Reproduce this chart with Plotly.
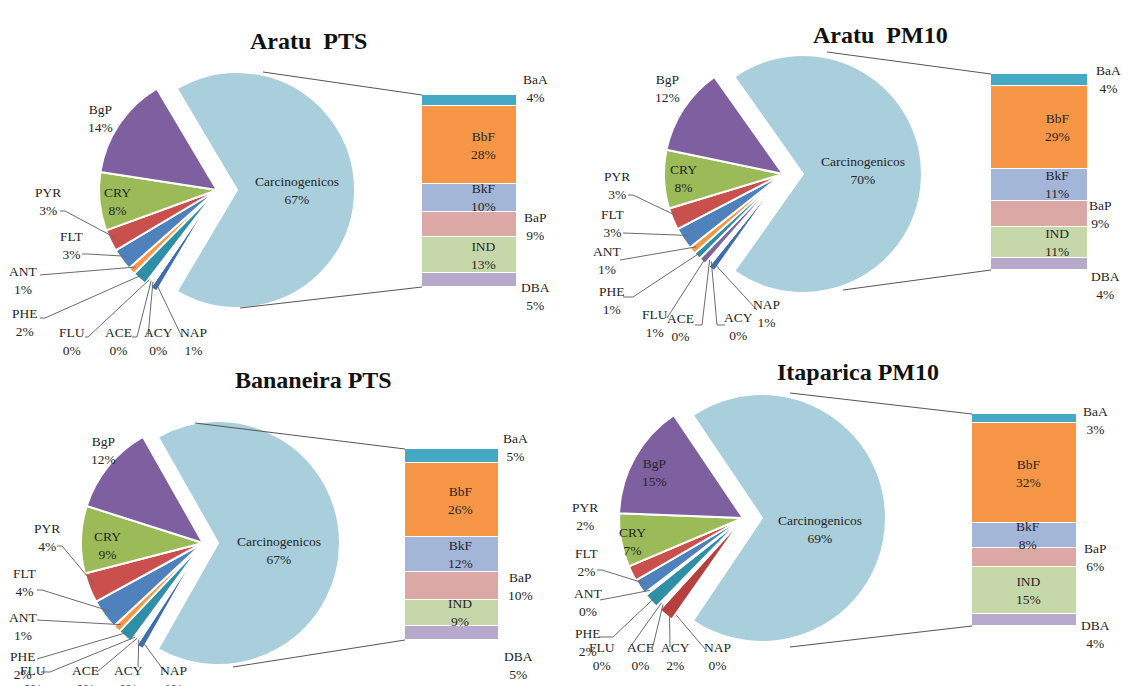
import math
import plotly.graph_objects as go

W, H = 1131, 686

# slices of the main pie, clockwise, starting with the grouped "other" slice
pie_labels = ["Carcinogenicos", "NAP", "ACY", "ACE", "FLU", "PHE", "ANT", "FLT", "PYR", "CRY", "BgP"]
# segments of the split-out bar, bottom to top
bar_labels = ["DBA", "IND", "BaP", "BkF", "BbF", "BaA"]

titles = ["Aratu  PTS", "Aratu  PM10", "Bananeira PTS", "Itaparica PM10"]

# percentages (the 0% slices are thin but still visible)
aratu_pts_pie = [67, 1, 0.3, 0.3, 0.3, 2, 1, 3, 3, 8, 14]
aratu_pts_bar = [5, 13, 9, 10, 28, 4]
aratu_pm10_pie = [70, 1, 0.3, 0.3, 1, 1, 1, 3, 3, 8, 12]
aratu_pm10_bar = [4, 11, 9, 11, 29, 4]
bananeira_pts_pie = [67, 1, 0.3, 0.3, 0.3, 2, 1, 4, 4, 9, 12]
bananeira_pts_bar = [5, 9, 10, 12, 26, 5]
itaparica_pm10_pie = [69, 0.3, 2, 0.3, 0.3, 2, 0.3, 2, 2, 7, 15]
itaparica_pm10_bar = [4, 15, 6, 8, 32, 3]

pie_values = [aratu_pts_pie, aratu_pm10_pie, bananeira_pts_pie, itaparica_pm10_pie]
bar_values = [aratu_pts_bar, aratu_pm10_bar, bananeira_pts_bar, itaparica_pm10_bar]

pie_colors = ["#A9CEDC", "#3F6DAF", "#B5403D", "#9BBB59", "#8064A2", "#2E8FA6",
              "#F79646", "#4F81BD", "#C9504C", "#9BBB59", "#7E5FA0"]
bar_colors = ["#B7A9CC", "#C6D8AA", "#DCA8A6", "#A4B6D8", "#F79646", "#46A9C3"]

FONT = "Liberation Serif"
TXT = "#262626"


def X(px):
    return px / W


def Y(py):
    return 1 - py / H


# panel geometry, in pixels of the 1131x686 canvas
panels = [
    dict(center=(217, 190), r=118, pull=20, bar=(422, 517, 95, 287), title=(308, 41),
         links=[((263, 72), (422, 95)), ((240, 308), (422, 287))], bar_text_x=483,
         outside={"BaA": (535, 88), "BaP": (535, 226), "DBA": (535, 297)},
         labels={"Carcinogenicos": (297, 190), "BgP": (100, 119), "CRY": (117, 202),
                 "PYR": (48, 202), "FLT": (72, 245), "ANT": (23, 280), "PHE": (25, 322),
                 "FLU": (72, 342), "ACE": (118, 342), "ACY": (158, 342), "NAP": (193, 342)},
         leaders={"PYR": [(60, 211), (65, 211)], "FLT": [(82, 254), (87, 254)],
                  "ANT": [(40, 275)], "PHE": [(40, 318), (45, 318)],
                  "FLU": [(85, 337), (88, 337)], "ACE": [(132, 337), (137, 337)],
                  "ACY": [(148, 337)], "NAP": [(182, 337)]}),
    dict(center=(783, 174), r=119, pull=20, bar=(991, 1088, 74, 270), title=(880, 35),
         links=[((827, 52), (991, 74)), ((843, 290), (991, 270))], bar_text_x=1057,
         outside={"BaA": (1108, 79), "BaP": (1100, 215), "DBA": (1105, 285)},
         labels={"Carcinogenicos": (863, 170), "BgP": (667, 88), "CRY": (683, 178),
                 "PYR": (617, 185), "FLT": (613, 224), "ANT": (607, 260), "PHE": (612, 300),
                 "FLU": (655, 323), "ACE": (680, 328), "ACY": (738, 326), "NAP": (767, 313)},
         leaders={"PYR": [(628, 195), (633, 195)], "FLT": [(623, 233)], "ANT": [(620, 260)],
                  "PHE": [(623, 297), (633, 297)], "FLU": [(667, 318)],
                  "ACE": [(695, 325), (702, 325)], "ACY": [(725, 325), (717, 325)],
                  "NAP": [(757, 310)]}),
    dict(center=(203, 543), r=122, pull=15, bar=(405, 499, 449, 640), title=(313, 380),
         links=[((195, 423), (405, 449)), ((233, 667), (405, 640))], bar_text_x=460,
         outside={"BaA": (515, 448), "BaP": (520, 586), "DBA": (518, 665)},
         labels={"Carcinogenicos": (279, 550), "BgP": (103, 450), "CRY": (107, 545),
                 "PYR": (47, 537), "FLT": (25, 582), "ANT": (23, 626), "PHE": (23, 665),
                 "FLU": (33, 679), "ACE": (85, 679), "ACY": (128, 679), "NAP": (173, 679)},
         leaders={"PYR": [(57, 546), (62, 546)], "FLT": [(37, 590), (42, 590)],
                  "ANT": [(37, 620)], "PHE": [(37, 659)], "FLU": [(41, 672), (50, 672)],
                  "ACE": [(97, 672)], "ACY": [(138, 667)], "NAP": [(165, 672)]}),
    dict(center=(743, 518), r=124, pull=19, bar=(972, 1077, 414, 626), title=(858, 372),
         links=[((790, 393), (972, 414)), ((790, 647), (972, 626))], bar_text_x=1028,
         outside={"BaA": (1095, 420), "BaP": (1095, 557), "DBA": (1095, 634)},
         labels={"Carcinogenicos": (820, 529), "BgP": (654, 473), "CRY": (632, 541),
                 "PYR": (585, 516), "FLT": (587, 562), "ANT": (588, 602), "PHE": (588, 642),
                 "FLU": (602, 656), "ACE": (640, 656), "ACY": (675, 656), "NAP": (717, 656)},
         leaders={"FLT": [(597, 570), (602, 570)], "ANT": [(600, 600)],
                  "PHE": [(600, 637), (613, 637)], "FLU": [(628, 650)], "ACE": [(652, 650)],
                  "ACY": [(670, 647)], "NAP": [(705, 649)]}),
]


def slice_point(vals, idx, cx, cy, r, frac=0.95):
    # point on the mid-angle of a slice, same geometry plotly uses for the pie
    tot = sum(vals)
    start = 90 - 180 * vals[0] / tot
    ang = math.radians(start + 360 * (sum(vals[:idx]) + vals[idx] / 2) / tot)
    return cx + frac * r * math.sin(ang), cy - frac * r * math.cos(ang)


def label(x, y, text, yref="paper", **kw):
    return dict(x=x, y=y, xref="paper", yref=yref, text=text, showarrow=False,
                xanchor="center", yanchor="middle", align="center", **kw)


fig = go.Figure()
annotations = []
shapes = []
layout_axes = {}

for i, p in enumerate(panels):
    vals = pie_values[i]
    bvals = bar_values[i]
    cx, cy = p["center"]
    r = p["r"]
    half = r + p["pull"]
    s = "" if i == 0 else str(i + 1)

    fig.add_trace(go.Pie(
        labels=pie_labels, values=vals, sort=False, direction="clockwise",
        rotation=90 - 180 * vals[0] / sum(vals),
        pull=[p["pull"] / r] + [0] * (len(vals) - 1),
        marker=dict(colors=pie_colors, line=dict(color="white", width=2)),
        textinfo="none", showlegend=False,
        domain=dict(x=[X(cx - half), X(cx + half)], y=[Y(cy + half), Y(cy - half)]),
    ))

    # stacked bar with the carcinogenic compounds
    x0, x1, y0, y1 = p["bar"]
    for name, v, c in zip(bar_labels, bvals, bar_colors):
        fig.add_trace(go.Bar(
            x=[0], y=[v], width=1, name=name, showlegend=False,
            marker=dict(color=c, line=dict(color="white", width=1.5)),
            xaxis="x" + s, yaxis="y" + s,
        ))
    layout_axes["xaxis" + s] = dict(domain=[X(x0), X(x1)], range=[-0.5, 0.5],
                                    visible=False, anchor="y" + s, fixedrange=True)
    layout_axes["yaxis" + s] = dict(domain=[Y(y1), Y(y0)], range=[0, sum(bvals)],
                                    visible=False, anchor="x" + s, fixedrange=True)

    # bar labels
    cum = 0
    for name, v in zip(bar_labels, bvals):
        txt = f"{name}<br>{v:.0f}%"
        if name in p["outside"]:
            tx, ty = p["outside"][name]
            annotations.append(label(X(tx), Y(ty), txt))
        else:
            annotations.append(label(X(p["bar_text_x"]), cum + v / 2, txt, yref="y" + s))
        cum += v

    # pie labels and leader lines
    for idx, name in enumerate(pie_labels):
        tx, ty = p["labels"][name]
        annotations.append(label(X(tx), Y(ty), f"{name}<br>{vals[idx]:.0f}%"))
        if name in p["leaders"]:
            pts = p["leaders"][name] + [slice_point(vals, idx, cx, cy, r)]
            path = "M " + " L ".join(f"{X(a):.5f},{Y(b):.5f}" for a, b in pts)
            shapes.append(dict(type="path", path=path, xref="paper", yref="paper",
                               line=dict(color="#6b6b6b", width=1)))

    # lines joining the pie to the bar
    for (a, b), (c, d) in p["links"]:
        shapes.append(dict(type="line", xref="paper", yref="paper", x0=X(a), y0=Y(b),
                           x1=X(c), y1=Y(d), line=dict(color="#555555", width=1)))

    tx, ty = p["title"]
    annotations.append(label(X(tx), Y(ty), f"<b>{titles[i]}</b>",
                             font=dict(family=FONT, size=24, color="#111111")))

fig.update_layout(
    width=W, height=H, autosize=False,
    margin=dict(l=0, r=0, t=0, b=0),
    paper_bgcolor="white", plot_bgcolor="white",
    barmode="stack", bargap=0,
    font=dict(family=FONT, size=13.5, color=TXT),
    annotations=annotations, shapes=shapes,
    **layout_axes,
)

fig.write_html("out.html", config={"displayModeBar": False},
               post_script="document.body.style.margin = '0px';")
